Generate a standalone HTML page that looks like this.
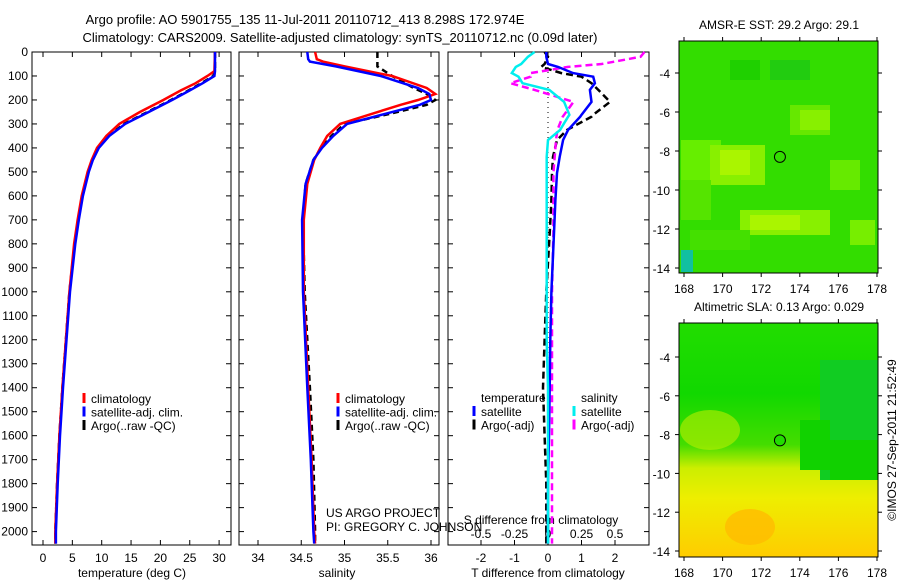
<!DOCTYPE html>
<html><head><meta charset="utf-8"><style>
body{margin:0;background:#fff;}
svg{display:block;font-family:"Liberation Sans",sans-serif;font-size:12px;}
</style></head><body>
<svg id="c" width="900" height="580" xmlns="http://www.w3.org/2000/svg">
<text x="305" y="24" text-anchor="middle" font-size="13">Argo profile: AO 5901755_135 11-Jul-2011 20110712_413 8.298S 172.974E</text>
<text x="340" y="42" text-anchor="middle" font-size="13">Climatology: CARS2009. Satellite-adjusted climatology: synTS_20110712.nc (0.09d later)</text>
<g id="maps"></g>
<g id="plots"></g>
</svg>
<script>
const depthTicks=[0,100,200,300,400,500,600,700,800,900,1000,1100,1200,1300,1400,1500,1600,1700,1800,1900,2000];
const tempTicks=[0,5,10,15,20,25,30];
const salTicks=[34,34.5,35,35.5,36];
const tdTicks=[-2,-1,0,1,2];
const sdTicks=[-0.5,-0.25,0,0.25,0.5];
// temperature profiles
const tDepth=[0,80,100,130,160,200,250,300,350,400,450,500,600,700,800,1000,1200,1400,1600,1800,2000,2050];
const tClim=[29.3,29.2,28.0,26.0,23.5,20.5,16.5,13.0,10.8,9.2,8.3,7.6,6.6,5.9,5.3,4.5,3.9,3.3,2.8,2.4,2.1,2.1];
const tSat=[29.3,29.3,29.2,27.2,25.0,22.0,18.0,14.0,11.3,9.5,8.5,7.8,6.8,6.1,5.5,4.6,4.0,3.4,2.9,2.5,2.2,2.2];
const tArgo=[29.3,29.3,29.0,27.0,24.8,21.8,17.8,13.8,11.2,9.4,8.4,7.7,6.7,6.0,5.4,4.5,3.9,3.3,2.8,2.4,2.1,2.1];
// salinity profiles
const sDepth=[0,30,40,60,100,150,175,200,220,260,300,350,400,450,550,700,1000,1400,1700,2000,2050];
const sClim=[34.66,34.68,34.75,35.0,35.55,35.95,36.05,35.85,35.65,35.3,34.95,34.8,34.72,34.65,34.57,34.53,34.53,34.58,34.62,34.65,34.66];
const sSat=[34.57,34.58,34.6,34.9,35.42,35.85,35.98,36.0,35.87,35.45,35.03,34.87,34.74,34.64,34.55,34.51,34.52,34.57,34.61,34.64,34.65];
const sArgo=[35.38,35.38,35.38,35.38,35.55,35.8,35.95,36.05,35.95,35.5,35.0,34.85,34.73,34.64,34.55,34.52,34.54,34.6,34.64,34.66,34.66];
// differences from climatology
const dDepth=[0,20,50,62,88,103,130,158,208,262,270,325,367,437,505,617,755,1000,1200,1400,1600,1800,2050];
const tdSat=[-0.05,-0.05,0.0,0.3,0.75,1.35,1.4,1.25,1.3,1.0,0.96,0.6,0.45,0.35,0.27,0.22,0.18,0.1,0.07,0.05,0.03,0.0,0.0];
const tdArgo=[-0.1,0.0,-0.1,-0.2,0.4,1.0,1.3,1.5,1.85,1.35,1.3,0.57,0.27,0.15,0.12,0.1,0.05,-0.05,-0.1,-0.15,-0.1,-0.05,-0.05];
const sdSat=[-0.1,-0.15,-0.2,-0.24,-0.27,-0.22,-0.19,0.01,0.12,0.16,0.15,0.09,0.0,-0.01,-0.01,-0.01,-0.01,-0.01,-0.01,0.0,0.0,0.0,0.0];
const sdArgo=[0.72,0.69,0.4,0.15,-0.13,-0.13,-0.28,-0.1,0.19,0.12,0.11,0.07,0.06,0.05,0.04,0.04,0.04,0.03,0.03,0.03,0.03,0.03,0.03];
const mapLon=[168,170,172,174,176,178];
const mapLat=[-4,-6,-8,-10,-12,-14];
const NS="http://www.w3.org/2000/svg";
const P=document.getElementById('plots'),M=document.getElementById('maps');
function el(t,a,p){const e=document.createElementNS(NS,t);for(const k in a)e.setAttribute(k,a[k]);(p||P).appendChild(e);return e;}
const top0=52,bot=545;
const yD=d=>top0+d*0.2398;
function panel(x0,x1,name){
  const r=el('rect',{x:x0,y:top0,width:x1-x0,height:bot-top0,fill:'none',stroke:'#000','stroke-width':1});
  
  depthTicks.forEach(d=>{const y=yD(d);el('line',{x1:x0,x2:x0+5,y1:y,y2:y,stroke:'#000'});el('line',{x1:x1-5,x2:x1,y1:y,y2:y,stroke:'#000'});});
}
function line(xs,ds,fx,color,dash,name,w){
  const pts=xs.map((v,i)=>fx(v).toFixed(1)+','+yD(ds[i]).toFixed(1)).join(' ');
  const e=el('polyline',{points:pts,fill:'none',stroke:color,'stroke-width':w||2.5});
  if(dash)e.setAttribute('stroke-dasharray',dash);
  
}
function txt(x,y,s,anchor,name,extra){const t=el('text',Object.assign({x:x,y:y,'text-anchor':anchor||'start'},extra||{}));t.textContent=s;return t;}
function legend(x,y,items,name){
  items.forEach((it,i)=>{el('line',{x1:x,x2:x,y1:y+i*13.5-10,y2:y+i*13.5,stroke:it[1],'stroke-width':3});
  txt(x+7,y+i*13.5,it[0],'start',name+'-entry');});
}
// panel 1
const xT=v=>43+v*5.87;
panel(32,231,'temperature-panel');
depthTicks.forEach(d=>txt(28,yD(d)+4,String(d),'end','depth-tick-label'));
tempTicks.forEach(v=>{el('line',{x1:xT(v),x2:xT(v),y1:bot,y2:bot-5,stroke:'#000'});el('line',{x1:xT(v),x2:xT(v),y1:top0,y2:top0+5,stroke:'#000'});txt(xT(v),562,String(v),'middle','temp-tick-label');});
txt(132,577,'temperature (deg C)','middle','temp-axis-title');
line(tArgo,tDepth,xT,'#000','6,4','temp-argo-line');
line(tClim,tDepth,xT,'#f00',null,'temp-climatology-line');
line(tSat,tDepth,xT,'#00f',null,'temp-satellite-line');
legend(84,403,[['climatology','#f00'],['satellite-adj. clim.','#00f'],['Argo(..raw -QC)','#000']],'temp-legend');
// panel 2
const xS=v=>258+(v-34)*86.5;
panel(239,439,'salinity-panel');
salTicks.forEach(v=>{el('line',{x1:xS(v),x2:xS(v),y1:bot,y2:bot-5,stroke:'#000'});el('line',{x1:xS(v),x2:xS(v),y1:top0,y2:top0+5,stroke:'#000'});txt(xS(v),562,String(v),'middle','salinity-tick-label');});
txt(337,577,'salinity','middle','salinity-axis-title');
line(sArgo,sDepth,xS,'#000','6,4','salinity-argo-line');
line(sClim,sDepth,xS,'#f00',null,'salinity-climatology-line');
line(sSat,sDepth,xS,'#00f',null,'salinity-satellite-line');
legend(338,403,[['climatology','#f00'],['satellite-adj. clim.','#00f'],['Argo(..raw -QC)','#000']],'salinity-legend');
txt(326,517,'US ARGO PROJECT','start','project-label');
txt(326,531,'PI: GREGORY C. JOHNSON','start','pi-label');
// panel 3
const xTD=v=>548+v*33.5, xSD=v=>548+v*134;
panel(448,649,'difference-panel');
el('line',{x1:548,x2:548,y1:top0,y2:bot,stroke:'#000','stroke-dasharray':'1,4'});
tdTicks.forEach(v=>{el('line',{x1:xTD(v),x2:xTD(v),y1:bot,y2:bot-5,stroke:'#000'});el('line',{x1:xTD(v),x2:xTD(v),y1:top0,y2:top0+5,stroke:'#000'});txt(xTD(v),562,String(v),'middle','tdiff-tick-label');});
sdTicks.forEach(v=>txt(xSD(v),538,String(v),'middle','sdiff-tick-label'));
txt(541,524,'S difference from climatology','middle','sdiff-axis-title');
txt(548,577,'T difference from climatology','middle','tdiff-axis-title');
line(tdArgo,dDepth,xTD,'#000','7,4','tdiff-argo-line');
line(sdArgo,dDepth,xSD,'#f0f','7,4','sdiff-argo-line');
line(tdSat,dDepth,xTD,'#00f',null,'tdiff-satellite-line');
line(sdSat,dDepth,xSD,'#0ee',null,'sdiff-satellite-line');
txt(481,402,'temperature','start','legend-temperature-header');
txt(581,402,'salinity','start','legend-salinity-header');
legend(474,416,[['satellite','#00f'],['Argo(-adj)','#000']],'tdiff-legend');
legend(574,416,[['satellite','#0ee'],['Argo(-adj)','#f0f']],'sdiff-legend');
// maps
const mx=lon=>684+(lon-168)*19.3;
function map(yTop,yBot,latY,title,name,fillFn,marker){
  const g=el('g',{},M);
  fillFn(g);
  el('rect',{x:679,y:yTop,width:199,height:yBot-yTop,fill:'none',stroke:'#000'},g);
  mapLon.forEach(v=>{el('line',{x1:mx(v),x2:mx(v),y1:yBot,y2:yBot+4,stroke:'#000'},g);el('line',{x1:mx(v),x2:mx(v),y1:yTop,y2:yTop-4,stroke:'#000'},g);const t=txt(mx(v),yBot+20,String(v),'middle',name+'-lon-label');g.appendChild(t);});
  mapLat.forEach(v=>{const y=latY(v);el('line',{x1:675,x2:679,y1:y,y2:y,stroke:'#000'},g);el('line',{x1:878,x2:882,y1:y,y2:y,stroke:'#000'},g);const t=txt(670,y+5,String(v),'end',name+'-lat-label');g.appendChild(t);});
  const tt=txt(779,yTop-12,title,'middle',name+'-title');g.appendChild(tt);
  const c=el('circle',{cx:mx(172.97),cy:latY(-8.3),r:5.5,fill:marker,stroke:'#000'},g);
  
}
const lat1=v=>73+(-4-v)*19.5, lat2=v=>357+(-4-v)*19.4;
map(41,273,lat1,'AMSR-E SST: 29.2 Argo: 29.1','sst-map',g=>{
  el('rect',{x:679,y:41,width:199,height:232,fill:'#33dd00'},g);
  [[681,140,40,40,'#66ee00'],[710,145,55,40,'#88f000'],[720,150,30,25,'#aaf500'],[790,105,40,30,'#66e800'],[800,110,30,20,'#88f000'],[740,210,90,25,'#88f000'],[750,215,50,15,'#aaf500'],[850,220,25,25,'#77ee00'],[681,180,30,40,'#55e400'],[830,160,30,30,'#66ea00'],[690,230,60,20,'#44e000'],[770,60,40,20,'#22cc10'],[730,60,30,20,'#1fd000']].forEach(r=>el('rect',{x:r[0],y:r[1],width:r[2],height:r[3],fill:r[4]},g));
  el('rect',{x:681,y:250,width:12,height:22,fill:'#11c0a0'},g);
},'none');
map(323,557,lat2,'Altimetric SLA: 0.13 Argo: 0.029','sla-map',g=>{
  const lg=el('linearGradient',{id:'sla',x1:0,y1:0,x2:0,y2:1},g);
  [[0,'#22dd00'],[0.3,'#11d800'],[0.52,'#44dd00'],[0.62,'#ccee00'],[0.75,'#eeee00'],[1,'#ffcc00']].forEach(s=>el('stop',{offset:s[0],'stop-color':s[1]},lg));
  el('rect',{x:679,y:323,width:199,height:234,fill:'url(#sla)'},g);
  el('rect',{x:820,y:360,width:58,height:120,fill:'#11cc22'},g);
  el('rect',{x:830,y:440,width:48,height:40,fill:'#11d000'},g);
  el('rect',{x:800,y:420,width:30,height:50,fill:'#11d200'},g);
  el('ellipse',{cx:750,cy:527,rx:25,ry:18,fill:'#ffbb00',opacity:0.8},g);
  el('ellipse',{cx:710,cy:430,rx:30,ry:20,fill:'#bbee00',opacity:0.6},g);
},'#22dd00');
const ts=txt(0,0,'©IMOS 27-Sep-2011 21:52:49','middle','timestamp');
ts.setAttribute('transform','translate(896,440) rotate(-90)');
M.appendChild(ts);
</script>
</body></html>
